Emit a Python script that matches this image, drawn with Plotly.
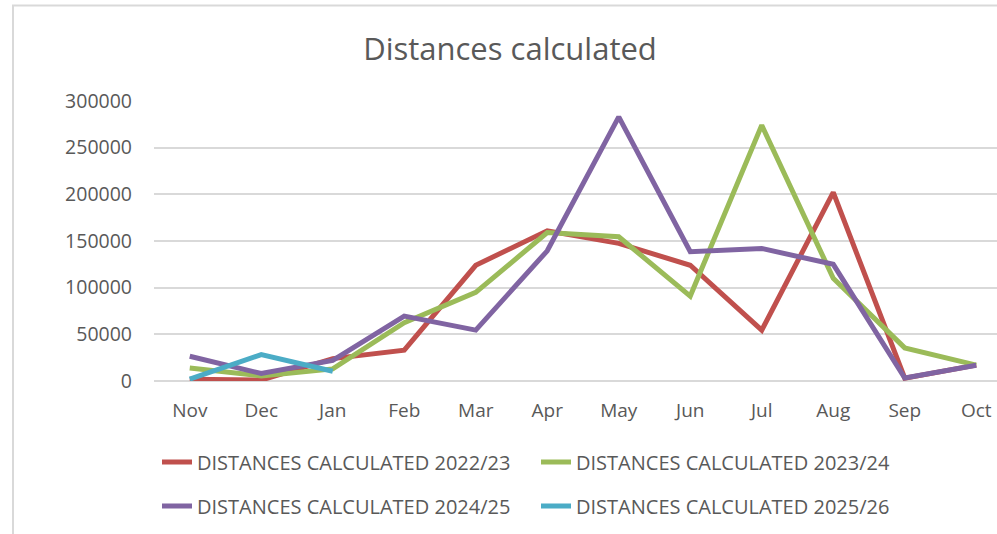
import plotly.graph_objects as go

months = ["Nov", "Dec", "Jan", "Feb", "Mar", "Apr", "May", "Jun", "Jul", "Aug", "Sep", "Oct"]
s2022 = [2000, 1000, 24000, 33000, 124000, 161000, 147500, 124000, 54500, 202000, 3000, 17000]
s2023 = [14000, 5500, 13000, 62500, 95000, 159000, 154500, 91000, 274000, 110000, 35500, 17000]
s2024 = [26500, 8000, 22000, 69500, 54500, 139500, 283000, 138500, 142000, 125000, 3200, 16800]
s2025 = [2000, 28300, 10400]

series = [
    ("DISTANCES CALCULATED 2022/23", s2022, "#C0504D", "legend"),
    ("DISTANCES CALCULATED 2023/24", s2023, "#9BBB59", "legend"),
    ("DISTANCES CALCULATED 2024/25", s2024, "#8064A2", "legend2"),
    ("DISTANCES CALCULATED 2025/26", s2025, "#4BACC6", "legend2"),
]

FONT = "Open Sans"
TXT = "#595959"

fig = go.Figure()
for name, vals, color, lg in series:
    fig.add_trace(go.Scatter(
        x=months[:len(vals)], y=vals, name=name, mode="lines",
        line=dict(color=color, width=5), legend=lg,
    ))

W, H = 997, 534
L, R, T, B = 154, 0, 101, 153
pw, ph = W - L - R, H - T - B

def px_x(p):
    return (p - L) / pw

def px_y(p):
    return (H - B - p) / ph

legend_common = dict(orientation="h", xanchor="left", yanchor="middle",
                     entrywidth=334, entrywidthmode="pixels",
                     font=dict(size=20, color=TXT, family=FONT),
                     bgcolor="rgba(0,0,0,0)")

fig.update_layout(
    width=W, height=H,
    margin=dict(l=L, r=R, t=T, b=B, pad=0),
    paper_bgcolor="white", plot_bgcolor="white",
    font=dict(family=FONT, color=TXT),
    title=dict(text="Distances calculated", x=(510) / W, xanchor="center",
               y=1 - 49 / H, yanchor="middle",
               font=dict(size=31, color=TXT, family=FONT)),
    xaxis=dict(
        categoryorder="array", categoryarray=months,
        range=[-0.5, -0.5 + pw / 71.5],
        showgrid=False, showline=False, zeroline=False,
        ticks="", tickfont=dict(size=19, color=TXT), ticklabelstandoff=16,
    ),
    yaxis=dict(
        range=[0, 300000], tickvals=[0, 50000, 100000, 150000, 200000, 250000, 300000],
        ticktext=["0", "50000", "100000", "150000", "200000", "250000", "300000"],
        showgrid=True, gridcolor="#D9D9D9", gridwidth=1.5,
        zeroline=True, zerolinecolor="#D9D9D9", zerolinewidth=1.5,
        showline=False, ticks="", tickfont=dict(size=19.5, color=TXT),
        ticklabelstandoff=21,
    ),
    legend=dict(x=px_x(157), y=px_y(462), **legend_common),
    legend2=dict(x=px_x(157), y=px_y(506), **legend_common),
    showlegend=True,
)

fig.add_shape(type="path", xref="paper", yref="paper",
              path=f"M {px_x(13)} {px_y(600)} L {px_x(13)} {px_y(5.5)} L {px_x(1100)} {px_y(5.5)}",
              line=dict(color="#D9D9D9", width=2))

fig.write_html("out.html", config={"displayModeBar": False},
               post_script="document.body.style.margin='0';document.body.style.overflow='hidden';")
